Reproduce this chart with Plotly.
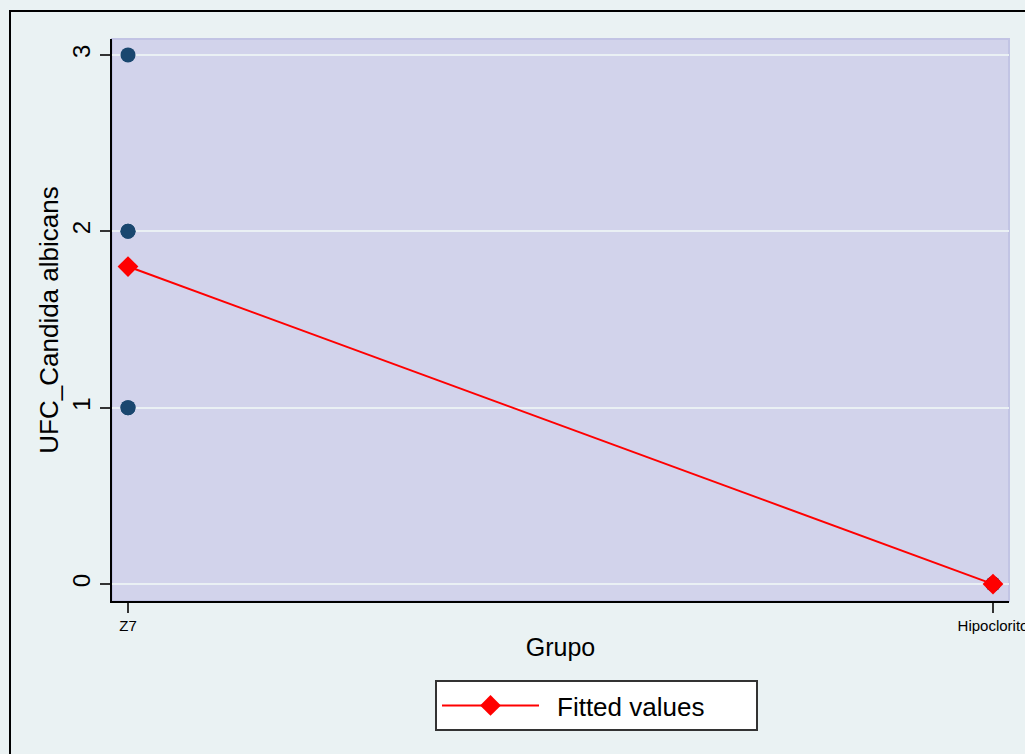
import plotly.graph_objects as go

# Data
groups = ["Z7", "Hipoclorito"]
obs_group = ["Z7", "Z7", "Z7", "Z7", "Z7", "Hipoclorito", "Hipoclorito", "Hipoclorito"]
obs_ufc = [3, 2, 2, 1, 1, 0, 0, 0]
fitted = [1.8, 0.0]
y_ticks = [0, 1, 2, 3]

W, H = 1025, 754
L, R, T, B = 112, 1009, 39, 601

fig = go.Figure()
fig.add_trace(go.Scatter(
    x=obs_group, y=obs_ufc, mode="markers",
    marker=dict(color="#1A476F", size=15, line=dict(width=0)),
    showlegend=False, name="UFC_Candida albicans"))
fig.add_trace(go.Scatter(
    x=groups, y=fitted, mode="lines+markers", name="\u2002Fitted values",
    line=dict(color="#FF0000", width=2),
    marker=dict(symbol="diamond", color="#FF0000", size=16, line=dict(width=0))))

pw, ph = R - L, B - T
def px(x): return (x - L) / pw
def py(y): return (B - y) / ph

fig.update_layout(
    width=W, height=H,
    margin=dict(l=L, r=W - R, t=T, b=H - B, autoexpand=False),
    paper_bgcolor="#EAF2F3", plot_bgcolor="#D2D3EB",
    font=dict(family="Liberation Sans, Arial", color="#000000"),
    xaxis=dict(type="category", categoryorder="array", categoryarray=groups,
               range=[-0.0185, 1.0185], showgrid=False, zeroline=False, automargin=False,
               showline=True, linecolor="#000000", linewidth=2,
               ticks="outside", ticklen=10, tickwidth=2, tickcolor="#333333",
               tickfont=dict(size=15),
               title=dict(text="Grupo", font=dict(size=25), standoff=5)),
    yaxis=dict(range=[-0.096, 3.09], tickvals=y_ticks, ticktext=[str(v) for v in y_ticks],
               showgrid=True, gridcolor="#EAF0F4", gridwidth=2, zeroline=False, automargin=False,
               showline=True, linecolor="#000000", linewidth=2,
               ticks="outside", ticklen=10, tickwidth=2, tickcolor="#333333",
               tickangle=-90, tickfont=dict(size=24),
               title=dict(text="UFC_Candida albicans", font=dict(size=26), standoff=2)),
    legend=dict(x=px(435), y=py(680), xanchor="left", yanchor="top",
                bgcolor="#FFFFFF", bordercolor="#333333", borderwidth=2,
                font=dict(size=26), orientation="h", itemwidth=97,
                entrywidth=207, entrywidthmode="pixels"),
    shapes=[
        dict(type="rect", xref="paper", yref="paper", x0=0, x1=1, y0=0, y1=1,
             line=dict(color="#C2C4E4", width=2), layer="below"),
        dict(type="rect", xref="paper", yref="paper",
             x0=px(10), y0=py(800), x1=px(1100), y1=py(11),
             line=dict(color="#000000", width=2)),
    ],
)

fig.write_html(
    "out.html",
    config={"displayModeBar": False},
    post_script="document.body.style.margin='0';document.body.style.background='#EAF2F3';",
)
